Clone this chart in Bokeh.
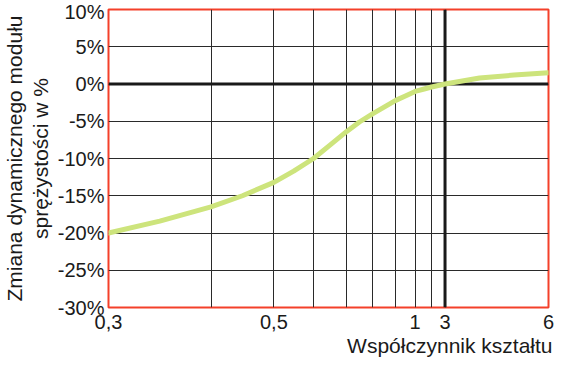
import numpy as np
from bokeh.plotting import figure
from bokeh.models import Range1d, FixedTicker, PrintfTickFormatter, Span, Title
from bokeh.embed import file_html
from bokeh.resources import INLINE

# --- data -------------------------------------------------------------
# x axis of the original chart is a custom (non-uniform) scale:
# each grid value and where it sits along the axis (axis units 0..455)
grid_values = [0.3, 0.4, 0.5, 0.6, 0.7, 0.8, 0.9, 1.0, 2.0, 3.0, 6.0]
grid_scale = [0, 106, 171, 212, 246, 273, 297, 317, 334, 348, 455]

x_tick_values = [0.3, 0.5, 1.0, 3.0, 6.0]
x_tick_labels = ["0,3", "0,5", "1", "3", "6"]

y_ticks = [-30, -25, -20, -15, -10, -5, 0, 5, 10]

# curve: shape factor -> change of dynamic modulus [%]
shape_factor = [0.3, 0.35, 0.4, 0.45, 0.5, 0.55, 0.6, 0.65, 0.7, 0.75, 0.8,
                0.85, 0.9, 0.95, 1.0, 1.5, 2.0, 2.5, 3.0, 4.0, 5.0, 6.0]
modulus_change = [-20.0, -18.4, -16.5, -15.0, -13.2, -11.7, -10.0, -8.2, -6.4,
                  -5.1, -4.0, -3.1, -2.2, -1.6, -1.0, -0.7, -0.4, -0.2, 0.0,
                  0.8, 1.2, 1.5]

# --- figure -----------------------------------------------------------
FONT = "Liberation Sans"
TXT = "#1a1a1a"

def to_axis(v):
    return np.interp(v, grid_values, grid_scale)

p = figure(width=554, height=360, output_backend="svg", toolbar_location=None,
           x_range=Range1d(grid_scale[0], grid_scale[-1]), y_range=Range1d(-30, 10),
           min_border_left=103, min_border_right=6, min_border_top=9, min_border_bottom=53)

p.background_fill_color = "white"
p.border_fill_color = "white"
p.outline_line_color = "#f4402a"
p.outline_line_width = 2

# axes
tick_pos = [int(round(float(to_axis(v)))) for v in x_tick_values]
p.xaxis.ticker = FixedTicker(ticks=tick_pos)
p.xaxis.major_label_overrides = {t: l for t, l in zip(tick_pos, x_tick_labels)}
p.yaxis.ticker = FixedTicker(ticks=y_ticks)
p.yaxis.formatter = PrintfTickFormatter(format="%d%%")

for ax in (p.xaxis[0], p.yaxis[0]):
    ax.axis_line_color = None
    ax.major_tick_line_color = None
    ax.minor_tick_line_color = None
    ax.major_tick_out = 0
    ax.major_tick_in = 0
    ax.major_label_text_font = FONT
    ax.major_label_text_font_size = "20px"
    ax.major_label_text_color = TXT
p.xaxis.major_label_standoff = 7
p.yaxis.major_label_standoff = 4

p.yaxis.axis_label = "Zmiana dynamicznego modułu\nsprężystości w %"
p.yaxis.axis_label_text_font = FONT
p.yaxis.axis_label_text_font_size = "21px"
p.yaxis.axis_label_text_font_style = "normal"
p.yaxis.axis_label_text_color = TXT
p.yaxis.axis_label_text_line_height = 1.1
p.yaxis.axis_label_standoff = 3

# x-axis title, right aligned under the axis
p.add_layout(Title(text="Współczynnik kształtu", align="right", offset=-4,
                   standoff=0, text_font=FONT, text_font_size="21px",
                   text_font_style="normal", text_color=TXT), "below")

# grids
p.xgrid.ticker = FixedTicker(ticks=grid_scale)
p.xgrid.grid_line_color = "#2a2a2a"
p.xgrid.grid_line_width = 1
p.ygrid.grid_line_color = "#2a2a2a"
p.ygrid.grid_line_width = 1

# thick reference lines at 0 % and shape factor 3
p.add_layout(Span(location=0, dimension="width", line_color="#1a1a1a",
                  line_width=3, level="underlay"))
p.add_layout(Span(location=float(to_axis(3.0)), dimension="height",
                  line_color="#1a1a1a", line_width=3, level="underlay"))

# curve
p.line(to_axis(shape_factor), modulus_change, line_color="#cde47c",
       line_width=5, line_join="round", line_cap="round")

open("out.html", "w").write(file_html(p, INLINE))
